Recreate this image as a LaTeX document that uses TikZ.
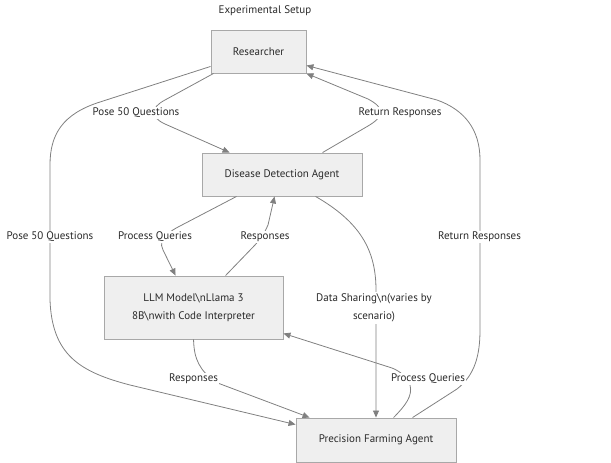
\documentclass[tikz,border=0pt]{standalone}
\usepackage{fontspec}
\setmainfont{PT Sans}
\usetikzlibrary{calc,arrows.meta}
\definecolor{boxfill}{HTML}{EFEFEF}
\definecolor{boxline}{HTML}{A8A8A8}
\definecolor{edgecol}{HTML}{808080}
\definecolor{txt}{HTML}{2A2A2A}
\begin{document}
\begin{tikzpicture}[x=1pt,y=-1pt,
  box/.style={draw=boxline,fill=boxfill,line width=0.9pt,text=txt,font=\fontsize{11}{18}\selectfont,align=center,inner sep=0pt},
  lbl/.style={fill=white,text=txt,font=\fontsize{11}{18}\selectfont,align=center,inner sep=1.5pt},
  edge/.style={draw=edgecol,line width=0.8pt},
  arr/.style={edge,-{Triangle[length=7pt,width=6pt]}}]
\useasboundingbox (0,0) rectangle (611,463);
\node[text=txt,font=\fontsize{11}{12}\selectfont] (title) at (265,11) {Experimental Setup};
\node[box,minimum width=95pt,minimum height=43pt] (res) at (258.5,51.5) {Researcher};
\node[box,minimum width=160pt,minimum height=43pt] (dda) at (282,174.5) {Disease Detection Agent};
\node[box,minimum width=179pt,minimum height=63pt] (llm) at (193.5,307.5) {LLM Model\textbackslash nLlama 3\\8B\textbackslash nwith Code Interpreter};
\node[box,minimum width=160pt,minimum height=44pt] (pfa) at (376,440) {Precision Farming Agent};

% Researcher -> DDA
\draw[arr] ($(res.south west)+(3,0)$) -- (165,100) .. controls (150,108) and (150,117) .. (165,124) -- ($(dda.north west)+(28,0)$);
% Researcher -> PFA (left)
\draw[arr] ($(res.south west)+(0,-7)$) -- (100,102) .. controls (62,114) and (50,135) .. (50,165) -- (50,300) .. controls (52,355) and (80,372) .. (130,385) -- ($(pfa.north west)+(0,7)$);
% DDA -> Researcher
\draw[arr] ($(dda.north west)+(121,0)$) -- (368,126) .. controls (385,116) and (385,108) .. (368,99) -- (res.south east);
% PFA -> Researcher (right)
\draw[arr] ($(pfa.north west)+(117,0)$) -- (457,389) .. controls (475,375) and (480,355) .. (480,330) -- (480,160) .. controls (480,130) and (465,110) .. (437,100) -- ($(res.south east)+(0,-8)$);
% DDA -> LLM
\draw[arr] ($(dda.south west)+(35,0)$) -- (180,226) .. controls (160,236) and (160,245) .. (163,250) -- ($(llm.north west)+(72,0)$);
% LLM -> DDA
\draw[arr] ($(llm.north west)+(122,0)$) -- (255,245) .. controls (262,237) and (265,232) .. (268,225) -- ($(dda.south west)+(73,0)$);
% DDA -> PFA
\draw[arr] ($(dda.south west)+(114,0)$) .. controls (360,222) and (376,250) .. (376,290) -- (pfa.north);
% LLM -> PFA
\draw[arr] ($(llm.south west)+(90,0)$) .. controls (194,360) and (200,370) .. (215,382) -- ($(pfa.north west)+(14,0)$);
% PFA -> LLM
\draw[arr] ($(pfa.north west)+(98,0)$) .. controls (405,406) and (413,396) .. (410,385) .. controls (408,378) and (400,371) .. (392,368) -- ($(llm.south east)+(0,-6)$);

\node[lbl] (l1) at (136,113) {Pose 50 Questions};
\node[lbl] (l2) at (400,113) {Return Responses};
\node[lbl] (l3) at (50,237) {Pose 50 Questions};
\node[lbl] (l4) at (155,237) {Process Queries};
\node[lbl] (l5) at (265,237) {Responses};
\node[lbl] (l6) at (479.5,237) {Return Responses};
\node[lbl] (l7) at (374,308) {Data Sharing\textbackslash n(varies by\\scenario)};
\node[lbl] (l8) at (193.5,379) {Responses};
\node[lbl] (l9) at (428,379) {Process Queries};
\end{tikzpicture}
\end{document}
